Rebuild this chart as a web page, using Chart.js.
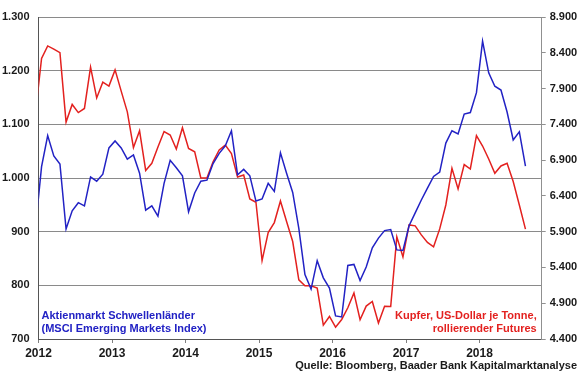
<!DOCTYPE html>
<html>
<head>
<meta charset="utf-8">
<script src="https://cdn.jsdelivr.net/npm/chart.js@4/dist/chart.umd.min.js"></script>
<style>
	body { margin: 0; background: #fff; }
	#wrap { width: 580px; height: 375px; }
</style>
</head>
<body>
<div id="wrap"><canvas id="chart" width="580" height="375"></canvas></div>
<script>
// monthly values, Dec 2011 .. Aug 2018 (first point sits just left of the axis)
var firstYear = 2011, firstMonth = 12;
var years = [2012, 2013, 2014, 2015, 2016, 2017, 2018];
var xMax = 2018.846;

// MSCI Emerging Markets Index (left axis)
var msci = [907,
	1021, 1079, 1041, 1026, 905, 939, 954, 948, 1002, 994, 1007, 1056,
	1069, 1056, 1035, 1043, 1009, 940, 948, 929, 990, 1033, 1019, 1004,
	937, 972, 994, 996, 1027, 1046, 1060, 1088, 1006, 1016, 1004, 957,
	961, 990, 975, 1047, 1009, 973, 906, 820, 793, 846, 814, 795,
	743, 741, 837, 839, 809, 834, 870, 888, 902, 904, 866, 865,
	911, 935, 959, 981, 1003, 1011, 1065, 1088, 1082, 1119, 1122, 1159,
	1255, 1196, 1171, 1164, 1123, 1071, 1086, 1022];

// Kupfer USD/t (right axis)
var kupfer = [7557,
	8320, 8496, 8450, 8401, 7431, 7678, 7564, 7622, 8199, 7769, 7989, 7934,
	8161, 7864, 7575, 7076, 7310, 6755, 6855, 7083, 7299, 7250, 7055, 7352,
	7064, 7017, 6650, 6650, 6878, 7041, 7110, 6992, 6664, 6692, 6357, 6311,
	5496, 5887, 6027, 6329, 6041, 5762, 5227, 5144, 5144, 5111, 4593, 4715,
	4565, 4673, 4837, 5042, 4669, 4860, 4925, 4623, 4858, 4855, 5827, 5548,
	5994, 5981, 5855, 5750, 5688, 5939, 6273, 6785, 6497, 6838, 6776, 7243,
	7097, 6915, 6716, 6818, 6855, 6601, 6273, 5935];

var msciLabel = ["Aktienmarkt Schwellenländer", "(MSCI Emerging Markets Index)"];
var kupferLabel = ["Kupfer, US-Dollar je Tonne,", "rollierender Futures"];
var source = "Quelle: Bloomberg, Baader Bank Kapitalmarktanalyse";

var blue = "#2222c4";
var red = "#e3211f";
var font = '"Liberation Sans", Arial, sans-serif';

function monthX(i) {
	// mid-month position in fractional years
	var m = firstMonth - 1 + i;
	return firstYear + Math.floor(m / 12) + ((m % 12) + 0.5) / 12;
}

function toPoints(values) {
	var pts = [];
	for (var i = 0; i < values.length; i++) {
		pts.push({ x: monthX(i), y: values[i] });
	}
	return pts;
}

function fmt(v) {
	if (v >= 1000) {
		return Math.floor(v / 1000) + "." + String(v % 1000).padStart(3, "0");
	}
	return String(v);
}

var textPlugin = {
	id: "texts",
	afterDraw: function (chart) {
		var ctx = chart.ctx;
		var a = chart.chartArea;
		ctx.save();
		ctx.font = "bold 11px " + font;
		ctx.textBaseline = "middle";

		ctx.fillStyle = blue;
		ctx.textAlign = "left";
		ctx.fillText(msciLabel[0], a.left + 3, a.bottom - 23);
		ctx.fillText(msciLabel[1], a.left + 3, a.bottom - 10);

		ctx.fillStyle = red;
		ctx.textAlign = "right";
		ctx.fillText(kupferLabel[0], a.right - 5, a.bottom - 23);
		ctx.fillText(kupferLabel[1], a.right - 5, a.bottom - 10);

		ctx.fillStyle = "#1a1a1a";
		ctx.fillText(source, chart.width - 3, chart.height - 9);
		ctx.restore();
	}
};

new Chart(document.getElementById("chart").getContext("2d"), {
	type: "line",
	data: {
		datasets: [
			{
				label: msciLabel.join(" "),
				data: toPoints(msci),
				yAxisID: "y",
				borderColor: blue,
				borderWidth: 1.5,
				pointRadius: 0,
				tension: 0,
				clip: 0
			},
			{
				label: kupferLabel.join(" "),
				data: toPoints(kupfer),
				yAxisID: "y2",
				borderColor: red,
				borderWidth: 1.5,
				pointRadius: 0,
				tension: 0,
				clip: 0
			}
		]
	},
	options: {
		responsive: false,
		animation: false,
		layout: { padding: { top: 17, left: 0, right: 0, bottom: 0 } },
		plugins: { legend: { display: false }, tooltip: { enabled: false } },
		scales: {
			x: {
				type: "linear",
				min: years[0],
				max: xMax,
				afterFit: function (s) { s.height = 36; },
				afterBuildTicks: function (s) {
					s.ticks = years.map(function (y) { return { value: y }; });
				},
				ticks: {
					padding: 3,
					maxRotation: 0,
					autoSkip: false,
					color: "#1a1a1a",
					font: { family: font, size: 12, weight: "bold" },
					callback: function (v) { return String(v); }
				},
				grid: { drawOnChartArea: false, tickLength: 4, color: "#808080" },
				border: { color: "#555" }
			},
			y: {
				position: "left",
				min: 700,
				max: 1300,
				afterFit: function (s) { s.width = 38.5; },
				ticks: {
					stepSize: 100,
					padding: 9,
					color: "#1a1a1a",
					font: { family: font, size: 11, weight: "bold" },
					callback: function (v) { return fmt(v); }
				},
				grid: { color: "#8a8a8a", lineWidth: 1, drawTicks: false },
				border: { color: "#555" }
			},
			y2: {
				position: "right",
				min: 4400,
				max: 8900,
				afterFit: function (s) { s.width = 38.3; },
				ticks: {
					stepSize: 500,
					padding: 4,
					color: "#1a1a1a",
					font: { family: font, size: 11, weight: "bold" },
					callback: function (v) { return fmt(v); }
				},
				grid: { drawOnChartArea: false, tickLength: 4, color: "#909090" },
				border: { color: "#909090" }
			}
		}
	},
	plugins: [textPlugin]
});
</script>
</body>
</html>
